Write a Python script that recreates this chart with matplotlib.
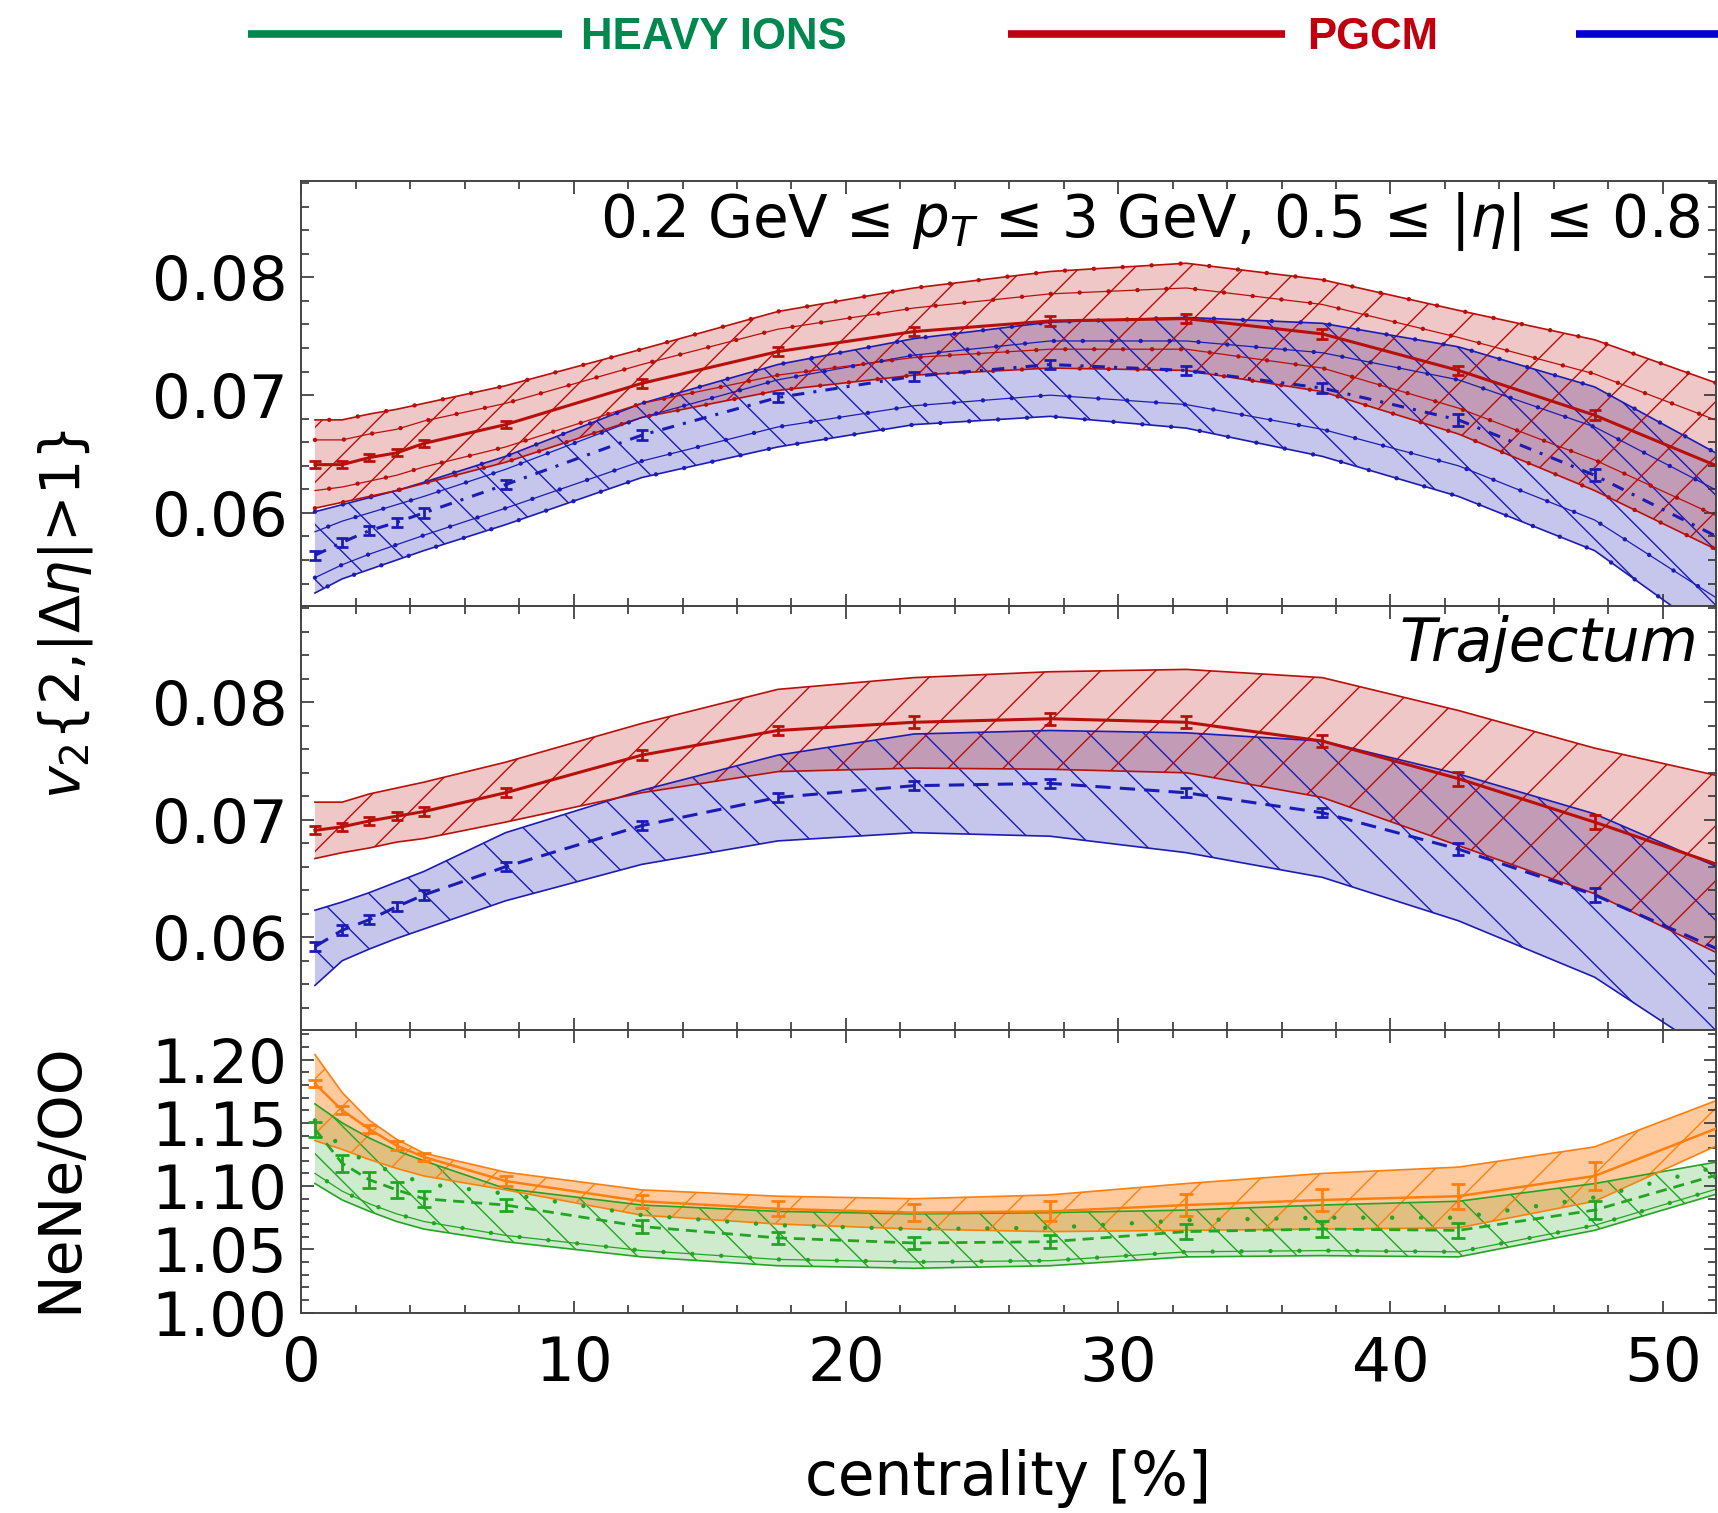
import matplotlib
matplotlib.use("Agg")
import matplotlib.pyplot as plt
from matplotlib.collections import LineCollection
from matplotlib.lines import Line2D
from matplotlib.ticker import MultipleLocator, FormatStrFormatter
from matplotlib.colors import to_rgba

plt.rcParams["font.family"] = "DejaVu Sans"
plt.rcParams["mathtext.fontset"] = "dejavusans"

# centrality bins; bands run one bin past the right edge of the axes
cent = [0.5, 1.5, 2.5, 3.5, 4.5, 7.5, 12.5, 17.5, 22.5, 27.5, 32.5, 37.5, 42.5, 47.5, 52.5]
cent_err = cent[:-1]

# --- top panel: 0.2 < pT < 3 GeV, 0.5 < |eta| < 0.8 ---
top_red = [0.0641, 0.0641, 0.0647, 0.0651, 0.0659, 0.0675, 0.0710, 0.0737, 0.0754, 0.0763, 0.0765, 0.0752, 0.0721, 0.0683, 0.0635]
top_red_hi = [0.0679, 0.0679, 0.0684, 0.0688, 0.0693, 0.0708, 0.0739, 0.0771, 0.0791, 0.0805, 0.0812, 0.0798, 0.0772, 0.0747, 0.0706]
top_red_lo = [0.0604, 0.0609, 0.0614, 0.0619, 0.0625, 0.0643, 0.0681, 0.0704, 0.0717, 0.0723, 0.0721, 0.0703, 0.0667, 0.0619, 0.0563]
top_red_in_hi = [0.0662, 0.0662, 0.0667, 0.0671, 0.0678, 0.0693, 0.0726, 0.0756, 0.0774, 0.0786, 0.0791, 0.0777, 0.0749, 0.0718, 0.0674]
top_red_in_lo = [0.0619, 0.0622, 0.0627, 0.0632, 0.0639, 0.0656, 0.0693, 0.0717, 0.0732, 0.0739, 0.0739, 0.0723, 0.0689, 0.0645, 0.0592]
top_red_err = [0.0003, 0.0003, 0.0003, 0.0003, 0.0003, 0.0003, 0.0004, 0.0004, 0.0004, 0.0004, 0.0004, 0.0004, 0.0004, 0.0004]

top_blue = [0.0564, 0.0575, 0.0585, 0.0592, 0.0600, 0.0624, 0.0666, 0.0698, 0.0716, 0.0726, 0.0721, 0.0706, 0.0679, 0.0632, 0.0574]
top_blue_hi = [0.0601, 0.0607, 0.0613, 0.0619, 0.0626, 0.0648, 0.0693, 0.0726, 0.0748, 0.0762, 0.0766, 0.0761, 0.0741, 0.0707, 0.0644]
top_blue_lo = [0.0532, 0.0544, 0.0552, 0.0560, 0.0568, 0.0590, 0.0630, 0.0656, 0.0675, 0.0682, 0.0672, 0.0648, 0.0614, 0.0568, 0.0485]
top_blue_in_hi = [0.0584, 0.0593, 0.0600, 0.0607, 0.0614, 0.0637, 0.0681, 0.0713, 0.0734, 0.0746, 0.0746, 0.0736, 0.0713, 0.0673, 0.0613]
top_blue_in_lo = [0.0545, 0.0556, 0.0565, 0.0573, 0.0581, 0.0604, 0.0644, 0.0673, 0.0691, 0.0700, 0.0692, 0.0671, 0.0640, 0.0594, 0.0520]
top_blue_err = [0.0004, 0.0004, 0.0004, 0.0004, 0.0004, 0.0004, 0.0004, 0.0004, 0.0004, 0.0004, 0.0004, 0.0004, 0.0005, 0.0005]

# --- middle panel: Trajectum ---
mid_red = [0.0691, 0.0694, 0.0699, 0.0703, 0.0707, 0.0723, 0.0755, 0.0776, 0.0783, 0.0786, 0.0783, 0.0767, 0.0735, 0.0698, 0.0658]
mid_red_hi = [0.0715, 0.0715, 0.0722, 0.0727, 0.0732, 0.0749, 0.0782, 0.0811, 0.0821, 0.0826, 0.0828, 0.0821, 0.0793, 0.0761, 0.0735]
mid_red_lo = [0.0667, 0.0672, 0.0676, 0.0681, 0.0684, 0.0698, 0.0723, 0.0741, 0.0744, 0.0743, 0.0740, 0.0719, 0.0678, 0.0637, 0.0581]
mid_red_err = [0.00035, 0.00035, 0.00035, 0.00035, 0.0004, 0.0004, 0.0004, 0.0004, 0.0005, 0.0005, 0.0005, 0.0005, 0.0006, 0.0006]

mid_blue = [0.0592, 0.0606, 0.0615, 0.0626, 0.0636, 0.0660, 0.0695, 0.0719, 0.0729, 0.0731, 0.0723, 0.0706, 0.0675, 0.0636, 0.0585]
mid_blue_hi = [0.0623, 0.0630, 0.0638, 0.0647, 0.0656, 0.0689, 0.0725, 0.0755, 0.0773, 0.0776, 0.0774, 0.0767, 0.0739, 0.0705, 0.0655]
mid_blue_lo = [0.0559, 0.0580, 0.0590, 0.0599, 0.0607, 0.0631, 0.0662, 0.0682, 0.0689, 0.0686, 0.0672, 0.0651, 0.0614, 0.0566, 0.0490]
mid_blue_err = [0.0004, 0.0004, 0.0004, 0.0004, 0.0004, 0.0004, 0.0004, 0.0004, 0.0004, 0.0004, 0.0004, 0.0004, 0.0005, 0.0006]

# --- bottom panel: NeNe/OO ratio ---
bot_orange = [1.181, 1.160, 1.145, 1.132, 1.123, 1.104, 1.088, 1.082, 1.079, 1.080, 1.085, 1.089, 1.092, 1.108, 1.150]
bot_orange_hi = [1.204, 1.174, 1.152, 1.137, 1.126, 1.111, 1.097, 1.092, 1.090, 1.093, 1.102, 1.110, 1.115, 1.131, 1.172]
bot_orange_lo = [1.136, 1.129, 1.121, 1.114, 1.108, 1.097, 1.077, 1.070, 1.066, 1.064, 1.065, 1.066, 1.067, 1.088, 1.137]
bot_orange_err = [0.003, 0.003, 0.003, 0.0035, 0.0035, 0.004, 0.005, 0.006, 0.007, 0.008, 0.009, 0.009, 0.010, 0.011]

bot_green = [1.145, 1.118, 1.105, 1.097, 1.090, 1.085, 1.068, 1.059, 1.055, 1.056, 1.064, 1.066, 1.065, 1.081, 1.112]
bot_green_hi = [1.165, 1.150, 1.138, 1.128, 1.120, 1.098, 1.085, 1.080, 1.078, 1.079, 1.081, 1.085, 1.088, 1.102, 1.121]
bot_green_lo = [1.102, 1.089, 1.080, 1.072, 1.066, 1.056, 1.044, 1.037, 1.035, 1.037, 1.044, 1.045, 1.044, 1.065, 1.097]
bot_green_in_lo = [1.110, 1.096, 1.086, 1.078, 1.072, 1.061, 1.049, 1.042, 1.040, 1.041, 1.048, 1.049, 1.048, 1.069, 1.101]
bot_green_dot_hi = [1.152, 1.130, 1.118, 1.110, 1.102, 1.094, 1.077, 1.069, 1.066, 1.067, 1.073, 1.075, 1.075, 1.091, 1.118]
bot_green_err = [0.006, 0.0065, 0.0065, 0.0065, 0.0065, 0.005, 0.005, 0.005, 0.005, 0.005, 0.006, 0.006, 0.006, 0.007]

RED = "#b80f0a"
BLUE = "#1c1cb4"
ORANGE = "#ff7f0e"
GREEN = "#23a523"
HATCH_PX = 55  # spacing of the diagonal hatch lines, in pixels


def hatch(ax, poly, color, slash):
    # sparse 45 degree hatch lines clipped to the band polygon
    bb = ax.get_window_extent()
    w, h = bb.width, bb.height
    segs = []
    for k in range(-int(h / HATCH_PX) - 2, int(w / HATCH_PX) + 3):
        x0 = k * HATCH_PX / w
        if slash == "/":
            segs.append([(x0, 0), (x0 + h / w, 1)])
        else:
            segs.append([(x0, 1), (x0 + h / w, 0)])
    lc = LineCollection(segs, colors=color, linewidths=1.0,
                        transform=ax.transAxes, zorder=1.5)
    lc.set_clip_path(poly.get_paths()[0], ax.transData)
    lc.set_clip_box(ax.bbox)
    ax.add_collection(lc, autolim=False)


def band(ax, lo, hi, color, alpha, slash):
    poly = ax.fill_between(cent, lo, hi, facecolor=to_rgba(color, alpha),
                           edgecolor="none", zorder=1)
    hatch(ax, poly, color, slash)
    ax.plot(cent, lo, color=color, lw=1.2, zorder=2)
    ax.plot(cent, hi, color=color, lw=1.2, zorder=2)


def dotted(ax, y, color, offset=0.0):
    ax.plot(cent, y, color=color, lw=3.2, ls=(offset, (0.01, 6.5)),
            dash_capstyle="round", zorder=2.2)


def central(ax, y, err, color, ls, lw=2.2, cap=4):
    ax.plot(cent, y, color=color, lw=lw, ls=ls, zorder=3)
    ax.errorbar(cent_err, y[:-1], yerr=err, fmt="none", ecolor=color,
                elinewidth=2, capsize=cap, capthick=2, zorder=3)


fig = plt.figure(figsize=(17.18, 15.13), dpi=100)
L, W = 0.1754, 0.8233
ax_top = fig.add_axes([L, 0.5995, W, 0.2810])
ax_mid = fig.add_axes([L, 0.3192, W, 0.2803], sharex=ax_top)
ax_bot = fig.add_axes([L, 0.1325, W, 0.1867], sharex=ax_top)

# top panel
band(ax_top, top_blue_lo, top_blue_hi, BLUE, 0.25, "\\")
band(ax_top, top_red_lo, top_red_hi, RED, 0.23, "/")
for arr, c in [(top_blue_in_hi, BLUE), (top_blue_in_lo, BLUE),
               (top_red_in_hi, RED), (top_red_in_lo, RED)]:
    ax_top.plot(cent, arr, color=c, lw=0.9, zorder=2)
for arr, c, off in [(top_blue_hi, BLUE, 0), (top_blue_in_hi, BLUE, 3.3),
                    (top_blue_in_lo, BLUE, 0), (top_blue_lo, BLUE, 3.3),
                    (top_red_hi, RED, 3.3), (top_red_in_hi, RED, 0),
                    (top_red_in_lo, RED, 3.3), (top_red_lo, RED, 0)]:
    dotted(ax_top, arr, c, off)
central(ax_top, top_blue, top_blue_err, BLUE, (0, (4, 3, 1, 3)))
central(ax_top, top_red, top_red_err, RED, "-")

# middle panel
band(ax_mid, mid_blue_lo, mid_blue_hi, BLUE, 0.25, "\\")
band(ax_mid, mid_red_lo, mid_red_hi, RED, 0.23, "/")
central(ax_mid, mid_blue, mid_blue_err, BLUE, (0, (5, 3)))
central(ax_mid, mid_red, mid_red_err, RED, "-")

# bottom panel
band(ax_bot, bot_green_lo, bot_green_hi, GREEN, 0.22, "\\")
ax_bot.plot(cent, bot_green_in_lo, color=GREEN, lw=0.9, zorder=2)
dotted(ax_bot, bot_green_dot_hi, GREEN, 0)
dotted(ax_bot, bot_green_in_lo, GREEN, 3.3)
band(ax_bot, bot_orange_lo, bot_orange_hi, ORANGE, 0.40, "/")
central(ax_bot, bot_green, bot_green_err, GREEN, (0, (4, 2.5)), lw=2.0, cap=5)
central(ax_bot, bot_orange, bot_orange_err, ORANGE, "-", lw=1.8, cap=5)

for ax in (ax_top, ax_mid, ax_bot):
    ax.set_xlim(0, 51.95)
    ax.xaxis.set_major_locator(MultipleLocator(10))
    ax.xaxis.set_minor_locator(MultipleLocator(2))
    ax.yaxis.set_major_formatter(FormatStrFormatter("%.2f"))
    ax.tick_params(which="both", direction="in", top=True, right=True,
                   color="#333333", width=1.2, labelsize=44)
    ax.tick_params(which="major", length=9)
    ax.tick_params(which="minor", length=5.5)
    ax.tick_params(axis="y", pad=10)
    ax.tick_params(axis="x", pad=16)
    for s in ax.spines.values():
        s.set_linewidth(1.4)
        s.set_color("#444444")

for ax in (ax_top, ax_mid):
    ax.set_ylim(0.0521, 0.0882)
    ax.yaxis.set_major_locator(MultipleLocator(0.01))
    ax.yaxis.set_minor_locator(MultipleLocator(0.002))
    ax.tick_params(labelbottom=False)

ax_bot.set_ylim(1.0, 1.2234)
ax_bot.yaxis.set_major_locator(MultipleLocator(0.05))
ax_bot.yaxis.set_minor_locator(MultipleLocator(0.01))

ax_top.text(0.989, 0.905, r"0.2 GeV ≤ $p_T$ ≤ 3 GeV, 0.5 ≤ $|\eta|$ ≤ 0.8",
            transform=ax_top.transAxes, ha="right", va="center", fontsize=41.7, zorder=5)
ax_mid.text(0.9875, 0.91, "Trajectum", style="italic",
            transform=ax_mid.transAxes, ha="right", va="center", fontsize=43, zorder=5)

fig.text(0.587, 1 - 1479 / 1513, "centrality [%]", ha="center", va="center", fontsize=43)
fig.text(66 / 1718, 1 - 614 / 1513, r"$v_2${2,|Δ$\eta$|>1}", rotation=90,
         ha="center", va="center", fontsize=40)
fig.text(60 / 1718, 1 - 1178 / 1513, "NeNe/OO", rotation=90,
         ha="center", va="center", fontsize=42)

# legend strip across the top
legend = [("HEAVY IONS", "#00884f", 248, 562, 581),
          ("PGCM", "#c0000f", 1008, 1285, 1307),
          ("", "#0000d0", 1576, 1718, None)]
ly = 1 - 34 / 1513
for label, c, x0, x1, xt in legend:
    fig.add_artist(Line2D([x0 / 1718, x1 / 1718], [ly, ly], color=c, lw=5.5,
                          transform=fig.transFigure, solid_capstyle="butt"))
    if xt is not None:
        fig.text(xt / 1718, 1 - 49 / 1513, label, color=c, fontsize=31.5,
                 fontweight="bold", family="Liberation Sans", ha="left", va="baseline")

fig.savefig("out.png", dpi=100)
